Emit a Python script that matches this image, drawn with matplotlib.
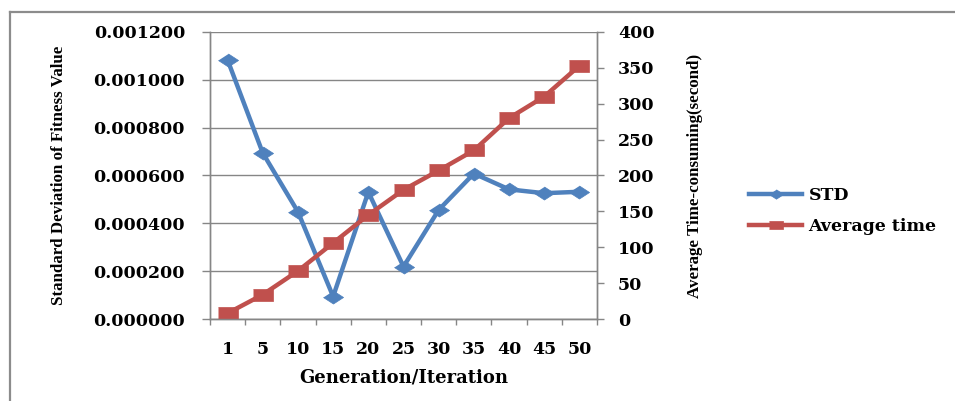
import matplotlib
matplotlib.use("Agg")
import matplotlib.pyplot as plt
from matplotlib.lines import Line2D
import numpy as np

# Generations / iterations on the category axis
categories = ['1', '5', '10', '15', '20', '25', '30', '35', '40', '45', '50']
# Standard deviation of the fitness value (left axis)
std_values = [0.001083, 0.000694, 0.000448, 0.000094, 0.000531, 0.000219,
              0.000456, 0.000608, 0.000542, 0.000526, 0.000532]
# Average time consumed in seconds (right axis)
avg_time = [8, 34, 67, 106, 145, 180, 207, 235, 280, 310, 353]

left_ticks = [0.0, 0.0002, 0.0004, 0.0006, 0.0008, 0.0010, 0.0012]
right_ticks = [0, 50, 100, 150, 200, 250, 300, 350, 400]

BLUE = '#4F81BD'
RED = '#C0504D'
GRID = '#868686'
WIDE = 'DejaVu Serif'
NARROW = 'Liberation Serif'
TICK_SIZE = 12.5

# flattened marker shapes
diamond = [(0, 0.65), (1, 0), (0, -0.65), (-1, 0)]
rect = [(-1, -0.62), (1, -0.62), (1, 0.62), (-1, 0.62)]

fig = plt.figure(figsize=(9.55, 4.01), dpi=100)
ax = fig.add_axes([210 / 955, 82 / 401, 387 / 955, 287 / 401])
ax2 = ax.twinx()

x = np.arange(len(categories))

l1, = ax.plot(x, std_values, color=BLUE, lw=3.2, marker=diamond, ms=14.5,
              mec=BLUE, mew=0.5, label='STD', solid_joinstyle='round')
l2, = ax2.plot(x, avg_time, color=RED, lw=3.2, marker=rect, ms=14.5,
               mec=RED, mew=0.5, label='Average time', solid_joinstyle='round')

ax.set_xlim(-0.5, len(categories) - 0.5)
ax.set_ylim(0, 0.0012)
ax2.set_ylim(0, 400)

ax.set_yticks(left_ticks)
ax.set_yticklabels([f'{v:.6f}' for v in left_ticks])
ax2.set_yticks(right_ticks)
ax2.set_yticklabels([str(v) for v in right_ticks])

ax.set_xticks(x)
ax.set_xticklabels(categories)
ax.set_xticks(np.arange(-0.5, len(categories)), minor=True)
ax.tick_params(axis='x', which='major', length=0, pad=16)
ax.tick_params(axis='x', which='minor', length=4, color=GRID, width=1)
ax.tick_params(axis='y', length=6, color=GRID, width=1, pad=12)
ax2.tick_params(axis='y', length=5, color=GRID, width=1, pad=10)

for lab in ax.get_xticklabels() + ax.get_yticklabels() + ax2.get_yticklabels():
    lab.set_fontfamily(WIDE)
    lab.set_fontweight('bold')
    lab.set_fontsize(TICK_SIZE)

ax.yaxis.grid(True, color=GRID, lw=1)
ax.set_axisbelow(True)

for a in (ax, ax2):
    a.spines['top'].set_visible(False)
    for s in ('left', 'right', 'bottom'):
        a.spines[s].set_color(GRID)
        a.spines[s].set_linewidth(1)

fig.text(59 / 955, 1 - 175 / 401, 'Standard Deviation of Fitness Value',
         rotation=90, ha='center', va='center', family=NARROW,
         fontweight='bold', fontsize=12.2)
fig.text(695 / 955, 1 - 176 / 401, 'Average Time-consuming(second)',
         rotation=90, ha='center', va='center', family=NARROW,
         fontweight='bold', fontsize=12.2)
fig.text(404 / 955, 1 - 378 / 401, 'Generation/Iteration',
         ha='center', va='center', family=WIDE, fontweight='bold',
         fontsize=13)

leg = fig.legend(handles=[l1, l2], loc='center left',
                 bbox_to_anchor=(733 / 955, 1 - 211 / 401),
                 frameon=False, numpoints=1, markerscale=0.72,
                 handlelength=3.1, handletextpad=0.35, labelspacing=0.76,
                 prop={'family': WIDE, 'weight': 'bold', 'size': 12.5})

# outer chart border (left and top edges)
fig.add_artist(Line2D([10 / 955, 10 / 955], [0, 1 - 12 / 401],
                      transform=fig.transFigure, color='#8c8c8c', lw=1.6))
fig.add_artist(Line2D([10 / 955, 1], [1 - 12 / 401, 1 - 12 / 401],
                      transform=fig.transFigure, color='#8c8c8c', lw=1.6))

fig.savefig('out.png', dpi=100)
